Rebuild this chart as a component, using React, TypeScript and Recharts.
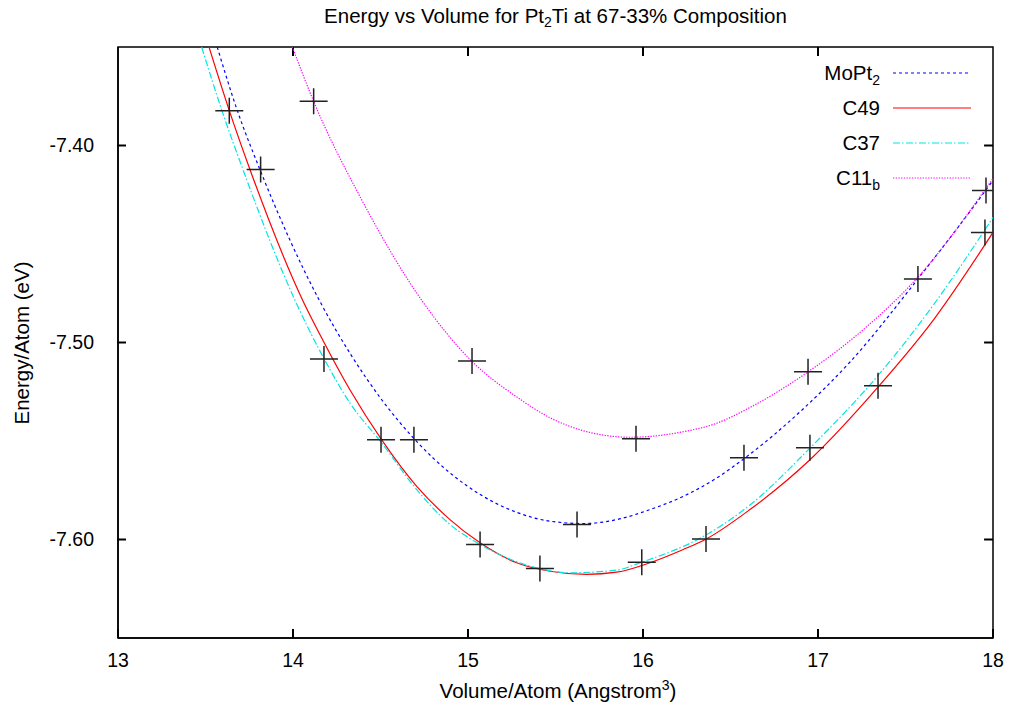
import React from 'react';
import { LineChart, Line, XAxis, YAxis, ReferenceArea, ReferenceLine } from 'recharts';

const volumeTicks = [13, 14, 15, 16, 17, 18];
const energyTicks = [-7.6, -7.5, -7.4];

// fitted curves
const mopt2CurveV = [13.567, 13.682, 13.811, 14.15, 14.335, 14.516, 14.701, 14.897, 15.087, 15.278, 15.469, 15.659, 15.85, 16.04, 16.23, 16.421, 16.583, 16.897, 17.183, 17.573, 17.907, 18.0];
const mopt2CurveE = [-7.35, -7.3823, -7.4122, -7.4785, -7.5068, -7.5301, -7.5497, -7.5662, -7.5781, -7.5862, -7.5907, -7.5919, -7.5899, -7.5848, -7.5781, -7.5688, -7.5586, -7.5352, -7.5099, -7.4675, -7.4289, -7.4177];

const c49CurveV = [13.52, 13.636, 13.754, 14.055, 14.17, 14.326, 14.507, 14.707, 14.897, 15.069, 15.278, 15.469, 15.678, 15.85, 16.04, 16.23, 16.364, 16.611, 16.954, 17.345, 17.659, 18.0];
const c49CurveE = [-7.35, -7.3823, -7.4122, -7.4785, -7.4987, -7.5241, -7.5494, -7.573, -7.5899, -7.6017, -7.6118, -7.6161, -7.6177, -7.6166, -7.6118, -7.6051, -7.5996, -7.5848, -7.5595, -7.5224, -7.4886, -7.4441];

const c37CurveV = [13.478, 13.594, 13.714, 14.011, 14.179, 14.326, 14.507, 14.707, 14.897, 15.069, 15.411, 15.583, 15.85, 15.993, 16.364, 16.611, 16.954, 17.354, 17.659, 18.0];
const c37CurveE = [-7.35, -7.3823, -7.4122, -7.4785, -7.5085, -7.5308, -7.551, -7.5747, -7.5924, -7.6025, -7.6148, -7.6169, -7.6155, -7.6115, -7.5975, -7.5825, -7.5536, -7.5156, -7.481, -7.4365];

const c11bCurveV = [13.996, 14.118, 14.394, 14.735, 15.021, 15.278, 15.469, 15.659, 15.926, 16.23, 16.421, 16.611, 16.945, 17.278, 17.564, 18.0];
const c11bCurveE = [-7.35, -7.3776, -7.4278, -7.4785, -7.5094, -7.5276, -7.5382, -7.5448, -7.5481, -7.5453, -7.541, -7.533, -7.5148, -7.492, -7.4675, -7.4167];

// calculated points (the crosses)
const mopt2PointsV = [13.815, 14.691, 15.623, 16.577, 17.571];
const mopt2PointsE = [-7.4122, -7.5494, -7.5924, -7.5585, -7.4678];
const c49PointsV = [13.636, 15.069, 15.411, 16.36, 17.343, 17.954];
const c49PointsE = [-7.3823, -7.6025, -7.6147, -7.5997, -7.522, -7.4441];
const c37PointsV = [14.177, 14.503, 15.993, 16.954];
const c37PointsE = [-7.5084, -7.5494, -7.6115, -7.5534];
const c11bPointsV = [14.118, 15.023, 15.96, 16.943, 17.96];
const c11bPointsE = [-7.3776, -7.5094, -7.5489, -7.5149, -7.4228];

const zip = (v: number[], e: number[]) => v.map((x, i) => ({ v: x, e: e[i] }));

const series = [
  { key: 'mopt2', name: 'MoPt', sub: '2', color: '#0000ff', dash: '3 3', curve: zip(mopt2CurveV, mopt2CurveE), points: zip(mopt2PointsV, mopt2PointsE) },
  { key: 'c49', name: 'C49', sub: '', color: '#ff0000', dash: undefined, curve: zip(c49CurveV, c49CurveE), points: zip(c49PointsV, c49PointsE) },
  { key: 'c37', name: 'C37', sub: '', color: '#00e5e5', dash: '7 2 1.5 2.5', curve: zip(c37CurveV, c37CurveE), points: zip(c37PointsV, c37PointsE) },
  { key: 'c11b', name: 'C11', sub: 'b', color: '#ff00ff', dash: '1.3 1.4', curve: zip(c11bCurveV, c11bCurveE), points: zip(c11bPointsV, c11bPointsE) },
];

const FONT = "'Liberation Sans', Arial, sans-serif";
const TICK_FONT = 19.5;
const LABEL_FONT = 20.5;
// mirrored tick length in data units (about 9px)
const TICK_DV = 0.051;
const TICK_DE = 0.0046;

const Cross = (props: any) => {
  const { cx, cy, index } = props;
  if (cx == null || cy == null) return <g key={index} />;
  return (
    <path
      key={index}
      d={`M${cx - 14},${cy}H${cx + 14}M${cx},${cy - 13}V${cy + 13}`}
      stroke="#222"
      strokeWidth={1.5}
      fill="none"
    />
  );
};

// bottom tick: label plus inward tick mark (tickSize -8, tickMargin 23)
const BottomTick = (props: any) => {
  const { x, y, payload } = props;
  return (
    <g>
      <line x1={x} x2={x} y1={y - 15} y2={y - 24} stroke="#000" strokeWidth={2} />
      <text x={x} y={y} dy="0.71em" textAnchor="middle" fontSize={TICK_FONT} fontFamily={FONT} fill="#000">
        {payload.value}
      </text>
    </g>
  );
};

// left tick: label plus inward tick mark (tickSize -8, tickMargin 32)
const LeftTick = (props: any) => {
  const { x, y, payload } = props;
  return (
    <g>
      <line x1={x + 23} x2={x + 32} y1={y} y2={y} stroke="#000" strokeWidth={2} />
      <text x={x} y={y} dy="0.355em" textAnchor="end" fontSize={TICK_FONT} fontFamily={FONT} fill="#000">
        {Number(payload.value).toFixed(2)}
      </text>
    </g>
  );
};

const Overlay = () => (
  <svg width={1010} height={708} style={{ position: 'absolute', left: 0, top: 0, pointerEvents: 'none' }} fontFamily={FONT}>
    <text x={555.5} y={23} textAnchor="middle" fontSize={LABEL_FONT} fill="#000">
      Energy vs Volume for Pt<tspan dy={4} fontSize={14}>2</tspan>
      <tspan dy={-4}>Ti at 67-33% Composition</tspan>
    </text>
    <text x={558} y={698} textAnchor="middle" fontSize={LABEL_FONT} fill="#000">
      Volume/Atom (Angstrom<tspan dy={-8} fontSize={14}>3</tspan>
      <tspan dy={8}>)</tspan>
    </text>
    <text transform="translate(29,343) rotate(-90)" textAnchor="middle" fontSize={LABEL_FONT} fill="#000">
      Energy/Atom (eV)
    </text>
    {series.map((s, i) => {
      const y = 73 + i * 35;
      return (
        <g key={s.key}>
          <text x={880} y={y + 7} textAnchor="end" fontSize={LABEL_FONT} fill="#000">
            {s.name}
            {s.sub && <tspan dy={5} fontSize={14}>{s.sub}</tspan>}
          </text>
          <line x1={893} x2={971} y1={y} y2={y} stroke={s.color} strokeWidth={1.2} strokeDasharray={s.dash} />
        </g>
      );
    })}
  </svg>
);

export default function App() {
  return (
    <div style={{ position: 'absolute', left: 0, top: 0, width: 1010, height: 708, background: '#fff', fontFamily: FONT }}>
      <LineChart width={1010} height={708} margin={{ top: 47, right: 17, bottom: 30, left: 38 }}>
        <XAxis
          dataKey="v"
          type="number"
          domain={[13, 18]}
          ticks={volumeTicks}
          allowDataOverflow
          height={40}
          stroke="#000"
          strokeWidth={1.5}
          tickLine={false}
          tickSize={-8}
          tickMargin={23}
          tick={BottomTick}
        />
        <YAxis
          type="number"
          domain={[-7.65, -7.35]}
          ticks={energyTicks}
          allowDataOverflow
          width={80}
          stroke="#000"
          strokeWidth={1.5}
          tickLine={false}
          tickSize={-8}
          tickMargin={32}
          tick={LeftTick}
        />
        <ReferenceArea x1={13} x2={18} y1={-7.65} y2={-7.35} fill="none" fillOpacity={0} stroke="#000" strokeWidth={1.5} ifOverflow="visible" />
        {volumeTicks.slice(1, -1).map((v) => (
          <ReferenceLine key={'tt' + v} segment={[{ x: v, y: -7.35 }, { x: v, y: -7.35 - TICK_DE }]} stroke="#000" strokeWidth={2} ifOverflow="visible" />
        ))}
        {energyTicks.map((e) => (
          <ReferenceLine key={'rt' + e} segment={[{ x: 18, y: e }, { x: 18 - TICK_DV, y: e }]} stroke="#000" strokeWidth={2} ifOverflow="visible" />
        ))}
        {series.map((s) => (
          <Line
            key={s.key + '-curve'}
            data={s.curve}
            dataKey="e"
            type="monotone"
            stroke={s.color}
            strokeWidth={1.2}
            strokeDasharray={s.dash}
            dot={false}
            activeDot={false}
            isAnimationActive={false}
          />
        ))}
        {series.map((s) => (
          <Line
            key={s.key + '-points'}
            data={s.points}
            dataKey="e"
            stroke="none"
            dot={(p: any) => <Cross key={p.index} {...p} />}
            activeDot={false}
            isAnimationActive={false}
          />
        ))}
      </LineChart>
      <Overlay />
    </div>
  );
}
